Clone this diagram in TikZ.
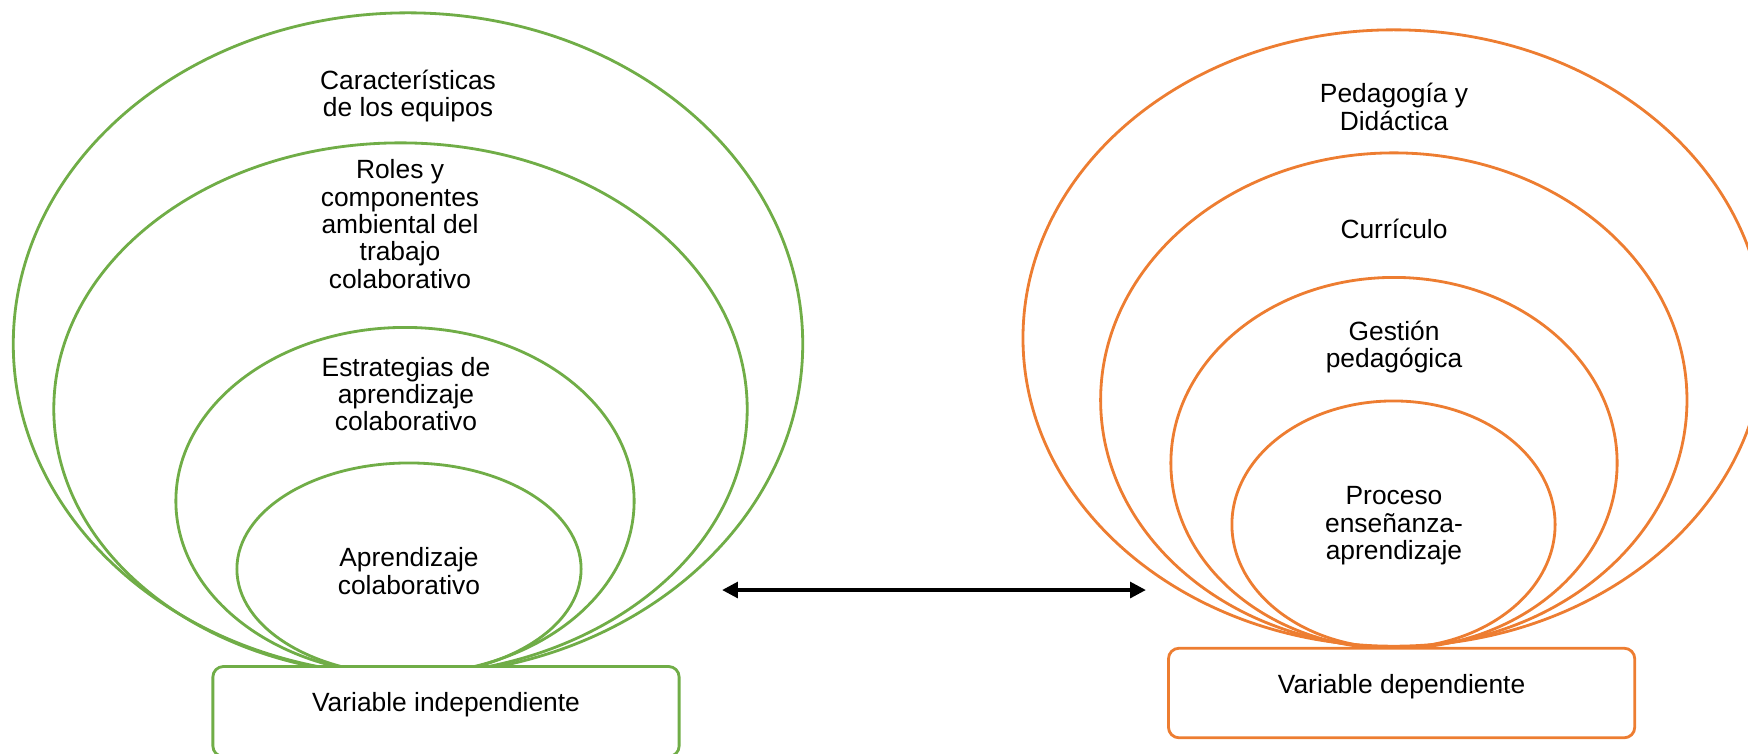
\documentclass[tikz,border=0pt]{standalone}
\usepackage{fontspec}
\setmainfont{Liberation Sans}
\usepackage{tikz}
\usetikzlibrary{shapes.geometric,arrows.meta}
\definecolor{ringgreen}{RGB}{112, 173, 71}
\definecolor{ringorange}{RGB}{237, 125, 49}

\begin{document}
\begin{tikzpicture}[
  x=0.01cm, y=-0.01cm,
  ring/.style={ellipse, draw, line width=0.8pt, inner sep=0pt, outer sep=0pt},
  varbox/.style={draw, fill=white, rounded corners=3pt, line width=0.8pt,
                 minimum width=4.66cm, text height=0.75em, text depth=0.75em,
                 font=\fontsize{7.5}{7.8}\selectfont},
  txt/.style={align=center, font=\fontsize{7.5}{7.8}\selectfont},
  arrow/.style={{Triangle[length=4.5pt, width=4.4pt]}-{Triangle[length=4.5pt, width=4.4pt]},
                line width=1.15pt}
]
  \useasboundingbox (0,0) rectangle (1748,753);

  % Independent variable
  \node[ring, draw=ringgreen, minimum width=7.89cm, minimum height=6.62cm] (equipos) at (408,344) {};
  \node[ring, draw=ringgreen, minimum width=6.93cm, minimum height=5.32cm] (roles) at (400.5,409) {};
  \node[ring, draw=ringgreen, minimum width=4.58cm, minimum height=3.47cm] (estrategias) at (405,501) {};
  \node[ring, draw=ringgreen, minimum width=3.44cm, minimum height=2.12cm] (aprendizaje) at (409,569) {};

  \node[txt] (equipostxt) at (408,96) {Características\\de los equipos};
  \node[txt] (rolestxt) at (400,224) {Roles y\\componentes\\ambiental del\\trabajo\\colaborativo};
  \node[txt] (estrategiastxt) at (406,394) {Estrategias de\\aprendizaje\\colaborativo};
  \node[txt] (aprendizajetxt) at (409,571) {Aprendizaje\\colaborativo};

  \node[varbox, draw=ringgreen, minimum height=0.9cm] (indep) at (446,711.5)
    {Variable independiente};

  % Dependent variable
  \node[ring, draw=ringorange, minimum width=7.41cm, minimum height=6.16cm] (pedagogia) at (1393.7,338) {};
  \node[ring, draw=ringorange, minimum width=5.86cm, minimum height=4.94cm] (curriculo) at (1393.8,400) {};
  \node[ring, draw=ringorange, minimum width=4.46cm, minimum height=3.71cm] (gestion) at (1394,463) {};
  \node[ring, draw=ringorange, minimum width=3.23cm, minimum height=2.47cm] (proceso) at (1393.5,524.5) {};

  \node[txt] (pedagogiatxt) at (1394,107) {Pedagogía y\\Didáctica};
  \node[txt] (curriculotxt) at (1394,229) {Currículo};
  \node[txt] (gestiontxt) at (1394,347) {Gestión\\pedagógica};
  \node[txt] (procesotxt) at (1394,526) {Proceso\\enseñanza-\\aprendizaje};

  \node[varbox, draw=ringorange, minimum height=0.895cm] (dep) at (1401.6,693)
    {Variable dependiente};

  % Relation
  \coordinate (relindep) at (722,590);
  \coordinate (reldep) at (1146,590);
  \draw[arrow] (relindep) -- (reldep);

\end{tikzpicture}
\end{document}
